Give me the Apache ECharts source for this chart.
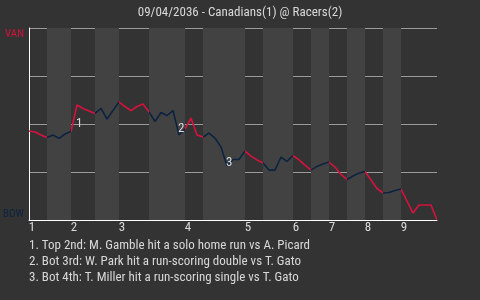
<!DOCTYPE html>
<html>
<head>
<meta charset="utf-8">
<script src="https://cdn.jsdelivr.net/npm/echarts@6/dist/echarts.min.js"></script>
<style>
html,body{margin:0;padding:0;background:#333333;}
#chart{width:480px;height:300px;}
</style>
</head>
<body>
<div id="chart"></div>
<script>
// ---- data ----
const chartTitle = '09/04/2036 - Canadians(1) @ Racers(2)';
const awayTeam = 'VAN';
const homeTeam = 'BOW';
const inningLabels = ['1','2','3','4','5','6','7','8','9'];
const inningStartPA = [0,7,15,26,36,44,50,56,62];
const halfInningEndPA = [3,7,11,15,20,26,29,36,39,44,47,50,53,56,59,62,68];
// away (VAN) win probability, %, after each plate appearance
const awayWinPct = [
  46.4,45.8,44.3,43.0,44.3,42.5,44.8,46.1,
  59.9,58.1,56.8,55.5,58.1,52.6,57.0,61.5,
  59.1,57.0,59.1,60.4,56.3,51.3,56.0,54.4,57.0,44.3,47.4,
  53.1,44.3,43.2,45.3,42.7,38.0,28.1,31.5,31.5,35.9,
  33.3,31.3,29.7,26.0,26.0,32.8,30.5,33.6,
  31.3,28.6,26.0,27.9,29.2,30.2,
  27.6,23.7,21.1,22.9,24.5,25.3,
  20.8,16.4,14.1,14.3,15.4,16.1,
  9.9,3.6,7.8,7.8,7.8,0
];
const noteMarks = ['1','2','3'];
const notePA = [8,25,33];
const noteLabelPct = [50,47.4,29.7];
const playNotes = [
  '1. Top 2nd: M. Gamble hit a solo home run vs A. Picard',
  '2. Bot 3rd: W. Park hit a run-scoring double vs T. Gato',
  '3. Bot 4th: T. Miller hit a run-scoring single vs T. Gato'
];

// ---- styles ----
const FONT = "'Roboto Condensed','Liberation Sans Narrow','DejaVu Sans Condensed',Roboto,sans-serif";
const RED = '#d4123c';
const NAVY = '#0c2340';
const TXT = '#d8d8d8';

const pieces = halfInningEndPA.map((end, k) => {
  const start = k === 0 ? 0 : halfInningEndPA[k - 1];
  return {gte: start, lte: end, color: k % 2 === 0 ? RED : NAVY};
});
const bands = [];
halfInningEndPA.forEach((end, k) => {
  const start = k === 0 ? 0 : halfInningEndPA[k - 1];
  if (k % 2 === 1) bands.push([{xAxis: start}, {xAxis: end}]);
});
const lastPA = halfInningEndPA[halfInningEndPA.length - 1];

const chart = echarts.init(document.getElementById('chart'));
chart.setOption({
  backgroundColor: '#333333',
  animation: false,
  textStyle: {fontFamily: FONT},
  title: [
    {text: chartTitle, left: 'center', top: 1,
     textStyle: {color: TXT, fontSize: 13, fontWeight: 'normal', fontFamily: FONT}},
    {text: playNotes.join('\n'), left: 24, top: 233,
     textStyle: {color: TXT, fontSize: 13, fontWeight: 'normal', lineHeight: 16, fontFamily: FONT}}
  ],
  grid: {left: 29, right: 43, top: 28, bottom: 80, containLabel: false, outerBoundsMode: 'none'},
  visualMap: {type: 'piecewise', show: false, dimension: 0, seriesIndex: 1, pieces: pieces},
  xAxis: {
    type: 'value', min: 0, max: lastPA, z: 1,
    axisLine: {lineStyle: {color: '#ffffff', width: 1}},
    axisTick: {show: false},
    splitLine: {show: false},
    axisLabel: {
      customValues: inningStartPA,
      formatter: v => inningLabels[inningStartPA.indexOf(v)] || '',
      color: TXT, fontSize: 13, fontFamily: FONT, align: 'center', padding: [0, 0, 0, 6], margin: 1
    }
  },
  yAxis: {
    type: 'value', min: 0, max: 100, interval: 25, z: 1,
    axisLine: {show: true, lineStyle: {color: '#ffffff', width: 1}},
    axisTick: {show: false},
    splitLine: {lineStyle: {color: '#9a9a9a', width: 1}},
    axisLabel: {
      margin: 5, fontSize: 11, fontFamily: FONT,
      verticalAlignMinLabel: 'bottom', verticalAlignMaxLabel: 'top',
      formatter: v => v === 100 ? '{a|' + awayTeam + '}' : (v === 0 ? '{h|' + homeTeam + '}' : ''),
      rich: {
        a: {color: RED, fontSize: 11, fontFamily: FONT, padding: [1, 0, 0, 0]},
        h: {color: NAVY, fontSize: 11, fontFamily: FONT}
      }
    }
  },
  series: [{
    type: 'line',
    data: [],
    z: 0,
    silent: true,
    markArea: {
      silent: true,
      itemStyle: {color: '#424242', opacity: 1},
      data: bands
    }
  }, {
    type: 'line',
    data: awayWinPct.map((v, i) => [i, v]),
    showSymbol: false,
    lineStyle: {width: 1.6},
    z: 3,
    markPoint: {
      symbol: 'circle', symbolSize: 0,
      label: {show: true, position: 'right', distance: 0, offset: [-1, 0], color: TXT,
              fontSize: 13, fontFamily: FONT, formatter: p => p.name},
      data: noteMarks.map((m, k) => ({name: m, coord: [notePA[k], noteLabelPct[k]]}))
    }
  }]
});
</script>
</body>
</html>
